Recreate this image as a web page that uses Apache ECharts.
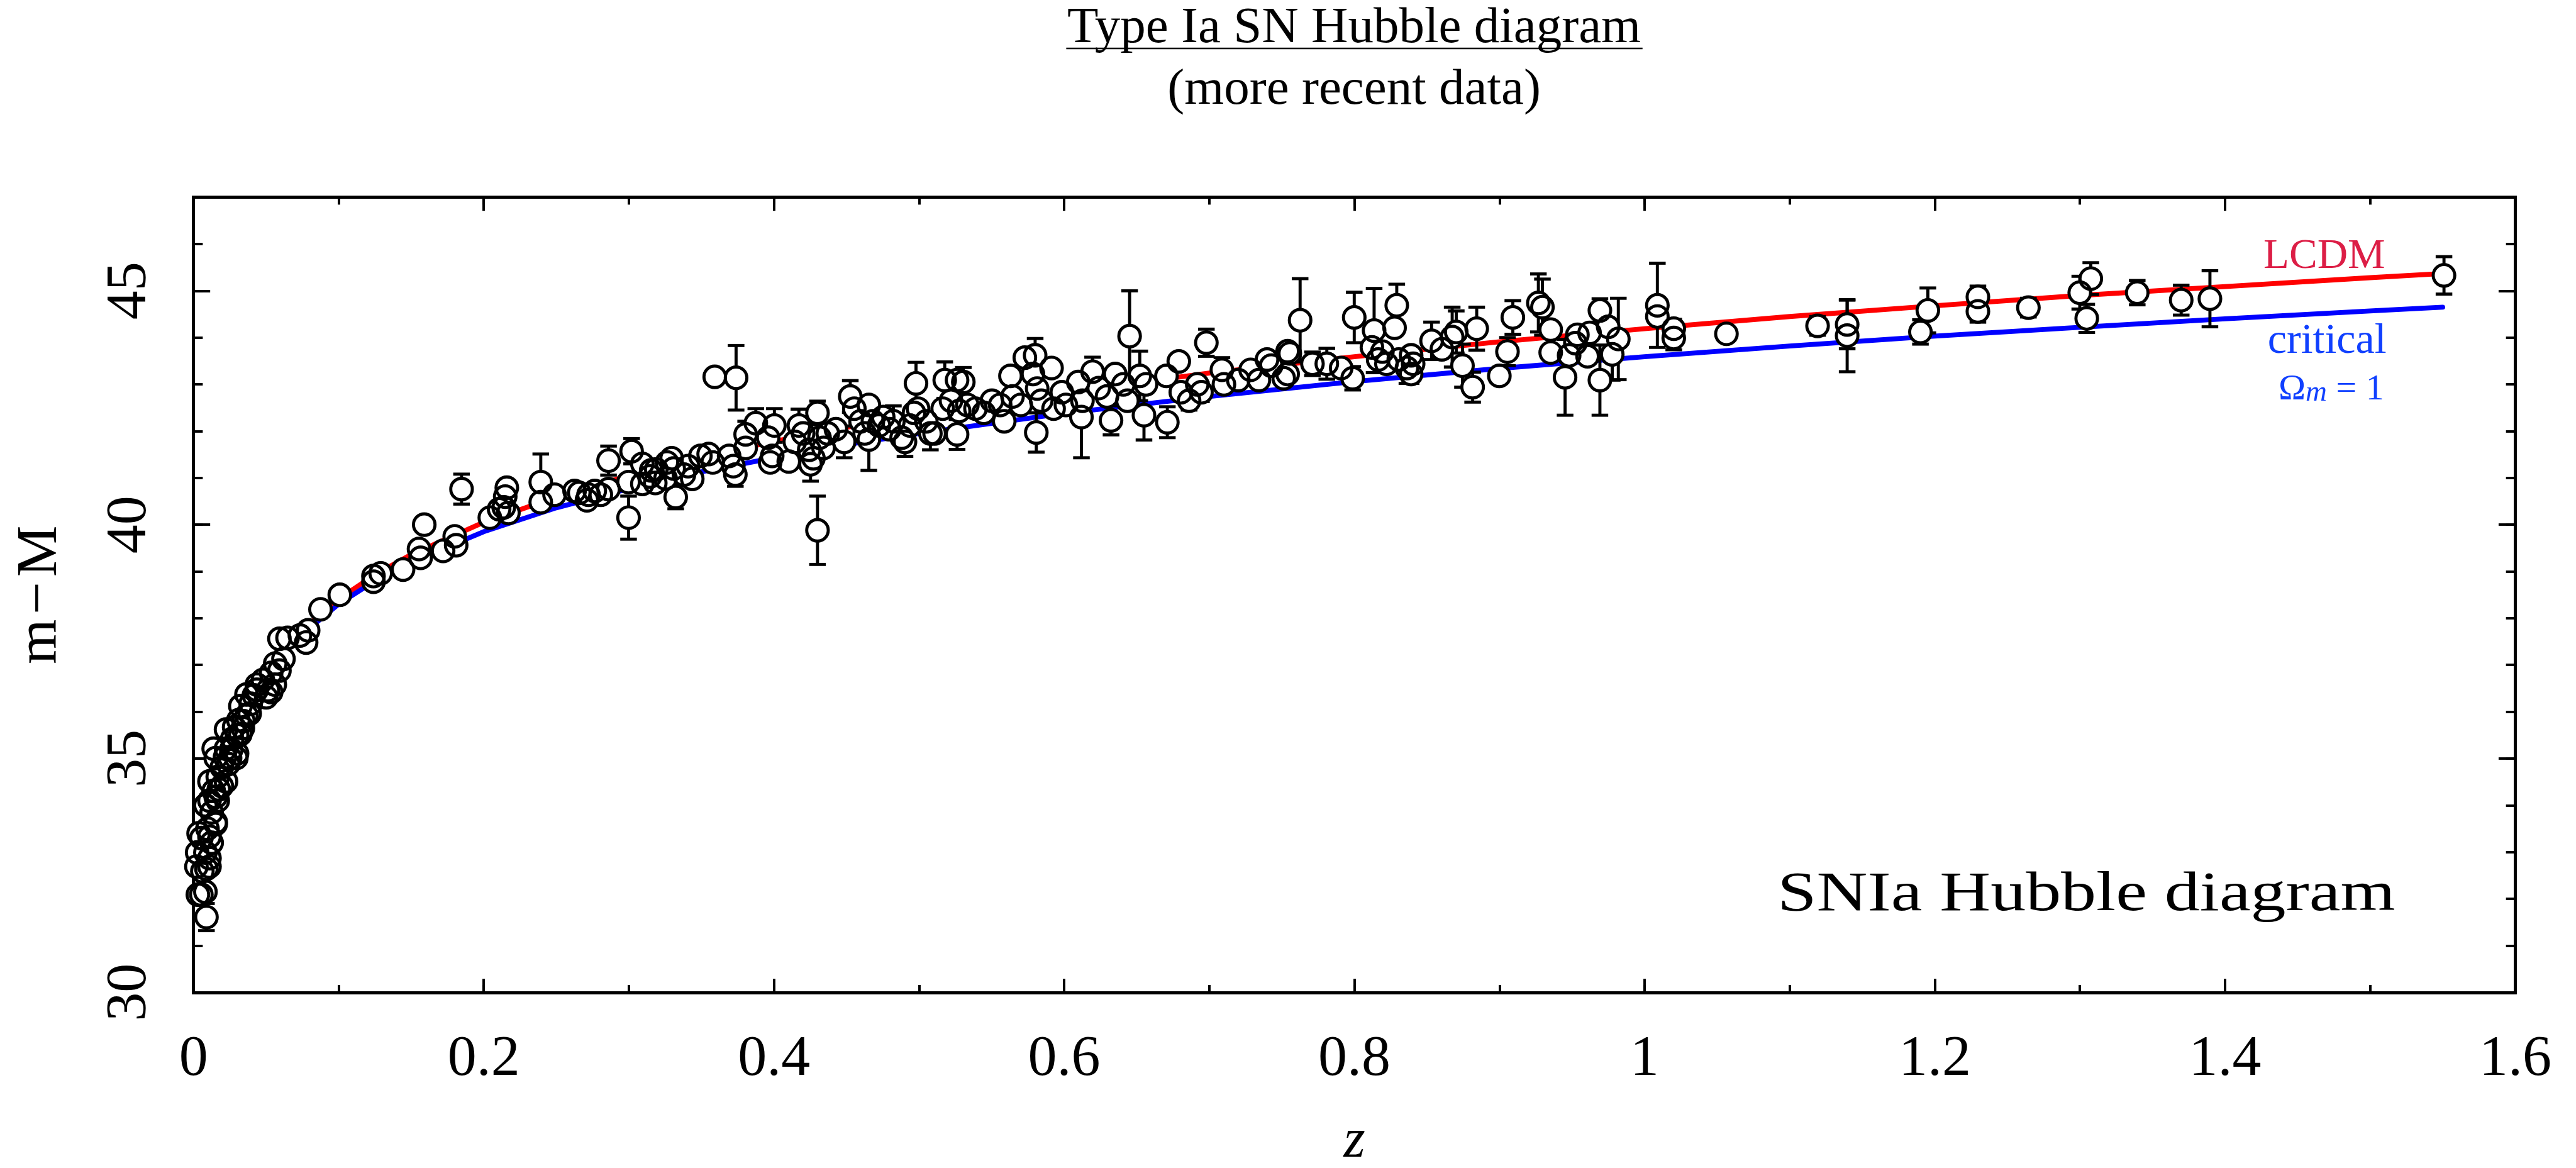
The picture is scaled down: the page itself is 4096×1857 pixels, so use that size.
<!DOCTYPE html>
<html>
<head>
<meta charset="utf-8">
<script src="https://cdn.jsdelivr.net/npm/echarts@6/dist/echarts.min.js"></script>
<style>html,body{margin:0;padding:0;background:#fff;}#c{width:4096px;height:1857px;}</style>
</head>
<body>
<div id="c"></div>
<script>
// ---------------- data ----------------
const snZ = [
 0.0089,0.0054,0.0030,0.0082,0.0020,0.0061,0.0110,0.0025,0.0082,0.0125,
 0.0054,0.0096,0.0153,0.0035,0.0125,0.0082,0.0167,0.0139,0.0195,0.0110,
 0.0167,0.0224,0.0195,0.0252,0.0153,0.0139,0.0224,0.0295,0.0266,0.0323,
 0.0224,0.0309,0.0280,0.0365,0.0323,0.0394,0.0365,0.0436,0.0535,0.0478,
 0.0535,0.0563,0.0592,0.0620,0.0592,0.0648,0.0733,0.0776,0.0790,0.0437,
 0.0512,0.0501,0.0416,0.0387,0.0344,0.0300,0.0340,0.0260,0.0300,0.0240,
 0.0217,0.0174,0.0153,0.0110,0.0153,0.0110,0.0110,0.0089,0.0560,
 0.0875,0.1008,0.1240,0.1240,0.1290,0.1444,0.1554,0.1565,0.1590,0.1720,
 0.1800,0.1810,0.1847,0.2042,0.2106,0.2138,0.2148,0.2159,0.2170,0.2393,
 0.2393,0.2488,0.2626,0.2658,0.2711,0.2722,0.2765,0.2807,0.2860,0.2860,
 0.2998,0.2998,0.3019,0.3093,0.3093,0.3146,0.3189,0.3263,0.3253,
 0.3154,0.3182,0.3295,0.3309,0.3323,0.3380,0.3408,0.3437,0.3493,0.3550,
 0.3578,0.3592,0.3739,0.3691,0.3720,0.3734,0.3805,0.3875,0.3805,0.3960,
 0.4003,0.3988,0.3974,0.4102,0.4144,0.4172,0.4201,0.4243,0.4272,0.4252,
 0.4300,0.4300,0.4314,0.4371,0.4342,0.4427,0.4484,0.4526,0.4554,0.4597,
 0.4625,0.4654,0.4654,0.4682,0.4724,0.4753,0.4795,0.4823,0.4880,0.4903,
 0.4937,0.4965,0.4979,0.4993,0.5050,0.5078,0.5107,0.5163,0.5177,0.5220,
 0.5262,0.5305,0.5276,0.5262,0.5333,0.5389,0.5446,0.5502,0.5559,0.5587,
 0.5630,0.5644,0.5701,0.5729,0.5800,0.5785,0.5814,0.5842,0.5808,0.5913,
 0.5927,0.5984,0.6012,0.6097,0.6126,0.6119,0.6196,0.6238,0.6295,0.6323,
 0.6352,0.6408,0.6436,0.6451,0.6521,0.6564,0.6550,0.6705,0.6711,0.6790,
 0.6804,0.6861,0.6917,0.6946,0.6980,0.7087,0.7101,0.7200,0.7285,0.7342,
 0.7398,0.7427,0.7540,0.7540,
 0.7626,0.7555,0.7513,0.7711,0.7810,0.7909,0.7988,0.7999,0.8136,0.8121,
 0.8193,0.8164,0.8292,0.8277,0.8221,0.8306,0.8362,0.8391,0.8405,0.8391,
 0.8532,0.8603,0.8674,0.8702,0.8843,0.8745,0.8815,0.9055,0.9092,0.8999,
 0.9268,0.9296,0.9353,0.9353,0.9452,0.9480,0.9523,0.9537,0.9607,0.9621,
 0.9692,0.9692,0.9749,0.9777,0.9819,1.0088,1.0088,1.0201,1.0201,1.0564,
 1.1192,1.1396,1.1396,
 1.1901,1.1952,1.2297,1.2297,1.2645,1.2999,1.3075,1.3047,1.3395,1.3698,1.3896,1.5509
];
const snMu = [
 31.61,32.09,32.09,32.15,32.69,32.59,32.69,32.99,32.99,33.20,
 33.30,33.50,33.60,33.40,33.85,34.00,34.10,34.31,34.41,34.51,
 34.61,34.51,34.81,35.01,35.01,35.21,35.21,35.01,35.42,35.52,
 35.62,35.82,35.67,35.92,36.12,36.17,36.37,36.47,36.42,36.68,
 36.83,37.03,36.88,37.13,37.56,37.58,37.63,37.48,37.74,36.58,
 36.46,36.31,36.35,35.96,35.80,35.50,35.65,35.19,35.11,34.88,
 35.03,34.34,34.18,34.10,33.64,33.33,32.87,32.64,36.58,
 38.19,38.50,38.90,38.78,38.96,39.04,39.48,39.29,40.00,39.44,
 39.75,39.56,40.76,40.15,40.33,40.37,40.60,40.79,40.25,40.91,
 40.48,40.64,40.72,40.68,40.52,40.64,40.72,40.64,40.76,41.37,
 40.91,40.15,41.57,41.30,40.87,41.03,41.18,41.33,40.99,
 41.16,40.89,41.42,41.20,40.59,41.07,41.25,40.98,41.47,41.51,
 41.33,43.16,43.14,41.47,41.25,41.07,41.93,42.17,41.64,41.86,
 42.12,41.47,41.33,41.35,41.77,42.12,41.95,41.60,41.42,41.29,
 42.39,39.88,41.86,41.95,41.64,42.04,41.77,42.74,42.48,42.21,
 41.95,41.82,42.56,42.21,42.12,42.30,42.04,42.21,41.86,41.77,
 42.12,42.39,43.02,42.48,42.21,41.95,41.95,42.48,43.09,42.65,
 43.09,43.05,42.43,41.93,42.56,42.48,42.39,42.65,42.56,42.21,
 43.18,42.74,42.56,43.57,43.62,43.22,42.91,42.65,41.97,43.35,
 42.48,42.83,42.56,43.05,42.65,42.30,43.27,42.92,42.74,42.23,
 43.22,43.00,42.65,44.03,43.18,43.00,42.34,43.18,42.19,43.49,
 42.83,42.65,43.00,42.83,43.89,43.31,43.00,43.09,43.31,43.09,
 43.53,43.40,43.22,43.71,
 44.37,43.66,43.13,43.44,43.44,43.35,43.13,44.43,44.15,43.79,
 43.70,43.53,44.69,44.21,43.44,43.53,43.35,43.62,43.44,43.22,
 43.93,43.75,44.01,44.12,44.19,43.40,42.94,43.70,44.43,43.18,
 44.74,44.65,44.17,43.68,43.15,43.62,43.88,44.06,43.60,44.10,
 44.58,43.09,44.23,43.64,43.97,44.69,44.45,44.19,43.99,44.08,
 44.25,44.28,44.04,
 44.12,44.58,44.87,44.56,44.64,44.96,45.26,44.41,44.96,44.80,44.83,45.33
];
const snErr = [
 0.29,0.15,0.15,0.15,0.15,0.15,0.15,0.15,0.15,0.15,
 0.15,0.15,0.15,0.15,0.15,0.15,0.15,0.15,0.15,0.15,
 0.15,0.15,0.15,0.15,0.15,0.15,0.15,0.15,0.15,0.15,
 0.15,0.15,0.15,0.15,0.15,0.15,0.15,0.15,0.15,0.15,
 0.15,0.15,0.15,0.15,0.15,0.15,0.15,0.15,0.15,0.15,
 0.15,0.15,0.15,0.15,0.15,0.15,0.15,0.15,0.15,0.15,
 0.15,0.15,0.15,0.15,0.15,0.15,0.15,0.15,0.15,
 0.15,0.15,0.15,0.15,0.15,0.15,0.15,0.15,0.15,0.15,
 0.15,0.15,0.32,0.15,0.15,0.15,0.15,0.15,0.15,0.60,
 0.15,0.15,0.15,0.15,0.15,0.15,0.15,0.15,0.15,0.31,
 0.15,0.46,0.27,0.15,0.15,0.15,0.15,0.15,0.15,
 0.15,0.15,0.15,0.15,0.25,0.15,0.15,0.15,0.15,0.15,
 0.15,0.15,0.69,0.15,0.15,0.25,0.28,0.31,0.15,0.15,
 0.36,0.15,0.15,0.15,0.15,0.35,0.15,0.15,0.15,0.36,
 0.25,0.73,0.15,0.15,0.15,0.15,0.34,0.34,0.15,0.15,
 0.15,0.66,0.15,0.15,0.15,0.15,0.15,0.33,0.15,0.31,
 0.15,0.15,0.45,0.15,0.15,0.35,0.15,0.15,0.39,0.15,
 0.15,0.31,0.15,0.32,0.15,0.15,0.15,0.15,0.15,0.15,
 0.15,0.15,0.15,0.15,0.36,0.15,0.15,0.15,0.42,0.15,
 0.15,0.15,0.15,0.15,0.15,0.87,0.31,0.15,0.15,0.31,
 0.15,0.15,0.15,0.97,0.53,0.15,0.53,0.15,0.33,0.15,
 0.15,0.20,0.15,0.20,0.29,0.26,0.15,0.15,0.15,0.15,
 0.15,0.15,0.15,0.15,
 0.89,0.15,0.15,0.25,0.33,0.15,0.25,0.54,0.90,0.15,
 0.15,0.15,0.45,0.15,0.15,0.15,0.33,0.15,0.15,0.20,
 0.40,0.15,0.64,0.45,0.46,0.46,0.32,0.30,0.36,0.15,
 0.62,0.60,0.15,0.15,0.81,0.15,0.15,0.15,0.15,0.15,
 0.25,0.75,0.15,0.55,0.87,0.90,0.15,0.20,0.25,0.15,
 0.20,0.52,0.77,
 0.26,0.48,0.23,0.23,0.20,0.35,0.34,0.30,0.26,0.32,0.60,0.40
];
// model curves
const curveZ  = [0.01,0.02,0.03,0.04,0.05,0.06,0.075,0.1,0.125,0.15,0.2,0.25,0.3,0.35,0.4,0.45,0.5,0.6,0.7,0.8,0.9,1.0,1.1,1.2,1.3,1.4,1.5,1.55];
const lcdmMu  = [33.27,34.79,35.68,36.33,36.83,37.24,37.75,38.41,38.93,39.36,40.05,40.59,41.05,41.43,41.78,42.08,42.35,42.83,43.24,43.59,43.91,44.19,44.45,44.68,44.90,45.09,45.28,45.37];
const critMu  = [33.25,34.77,35.65,36.28,36.77,37.17,37.66,38.30,38.80,39.20,39.85,40.36,40.77,41.13,41.43,41.71,41.95,42.38,42.74,43.06,43.34,43.59,43.82,44.03,44.22,44.40,44.57,44.65];
const xRange = [0, 1.6];
const yRange = [30, 47];
const titleText = 'Type Ia SN Hubble diagram';
const subtitleText = '(more recent data)';
const boxText = 'SNIa Hubble diagram';

// ---------------- layout ----------------
const S = 0.98;
const FONT = '"Liberation Serif", "DejaVu Serif", serif';
const PL = 314 * S, PR = 4081 * S, PT = 320 * S, PB = 1610 * S;
const gridRect = { left: PL, top: PT, width: PR - PL, height: PB - PT, outerBoundsMode: 'none', containLabel: false };

const lineAx = { show: true, onZero: false, lineStyle: { color: '#000', width: 5 * S, cap: 'square' } };
const noLine = { show: false, onZero: false };
const tickStyle = { color: '#000', width: 4 * S };
const noLabel = { show: false };
const noSplit = { show: false };

function xAx(grid, pos, interval, tickLen, withLine, extra) {
  return Object.assign({
    gridIndex: grid, type: 'value', position: pos, min: xRange[0], max: xRange[1], interval: interval,
    axisLine: withLine ? lineAx : noLine,
    axisTick: { show: true, inside: true, length: tickLen, lineStyle: tickStyle },
    axisLabel: noLabel, splitLine: noSplit, minorTick: { show: false }
  }, extra || {});
}
function yAx(grid, pos, interval, tickLen, withLine, extra) {
  return Object.assign({
    gridIndex: grid, type: 'value', position: pos, min: yRange[0], max: yRange[1], interval: interval,
    axisLine: withLine ? lineAx : noLine,
    axisTick: { show: true, inside: true, length: tickLen, lineStyle: tickStyle },
    axisLabel: noLabel, splitLine: noSplit, minorTick: { show: false }
  }, extra || {});
}

const CAP_HALF = 13.5 * S;
function renderErr(params, api) {
  const x = api.value(0);
  const p1 = api.coord([x, api.value(1)]);
  const p2 = api.coord([x, api.value(2)]);
  const st = { stroke: '#000', lineWidth: 5 * S };
  return {
    type: 'group',
    children: [
      { type: 'line', shape: { x1: p1[0], y1: p1[1], x2: p2[0], y2: p2[1] }, style: st },
      { type: 'line', shape: { x1: p1[0] - CAP_HALF, y1: p1[1], x2: p1[0] + CAP_HALF, y2: p1[1] }, style: st },
      { type: 'line', shape: { x1: p2[0] - CAP_HALF, y1: p2[1], x2: p2[0] + CAP_HALF, y2: p2[1] }, style: st }
    ]
  };
}

const points = snZ.map((z, i) => [z, snMu[i]]);
const errData = snZ.map((z, i) => [z, snMu[i] - snErr[i], snMu[i] + snErr[i]]);

const labelFont = { fontFamily: FONT, fontSize: 92, color: '#000' };
const blue = '#1040ff', crimson = '#dc1e46';

const option = {
  animation: false,
  backgroundColor: '#fff',
  grid: [Object.assign({}, gridRect), Object.assign({}, gridRect)],
  xAxis: [
    xAx(0, 'bottom', 0.2, 22 * S, true, {
      axisLabel: Object.assign({ show: true, margin: 61, showMinLabel: true, showMaxLabel: true }, labelFont),
      name: 'z', nameLocation: 'middle', nameGap: 194, nameMoveOverlap: false,
      nameTextStyle: { fontFamily: FONT, fontSize: 88, fontStyle: 'italic', color: '#000' }
    }),
    xAx(0, 'top', 0.2, 22 * S, true),
    xAx(1, 'bottom', 0.1, 12 * S, false),
    xAx(1, 'top', 0.1, 12 * S, false)
  ],
  yAxis: [
    yAx(0, 'left', 5, 27 * S, true, {
      axisLabel: Object.assign({ show: true, rotate: 90, margin: 55, showMinLabel: true, showMaxLabel: false }, labelFont),
      name: 'm\u200A\u2212\u200AM', nameLocation: 'middle', nameGap: 197, nameRotate: 90, nameMoveOverlap: false,
      nameTextStyle: { fontFamily: FONT, fontSize: 92, color: '#000' }
    }),
    yAx(0, 'right', 5, 27 * S, true),
    yAx(1, 'left', 1, 15 * S, false),
    yAx(1, 'right', 1, 15 * S, false)
  ],
  title: [
    { text: titleText, left: 2197 * S, top: 5.7, textAlign: 'center', padding: 0,
      textStyle: { fontFamily: FONT, fontSize: 81, fontWeight: 'normal', color: '#000' } },
    { text: subtitleText, left: 2197 * S, top: 103.7, textAlign: 'center', padding: 0,
      textStyle: { fontFamily: FONT, fontSize: 81, fontWeight: 'normal', color: '#000' } },
    { text: 'LCDM', left: 3870 * S, top: 375, textAlign: 'right', padding: 0,
      textStyle: { fontFamily: FONT, fontSize: 67, fontWeight: 'normal', color: crimson } },
    { text: 'critical', left: 3872 * S, top: 509.5, textAlign: 'right', padding: 0,
      textStyle: { fontFamily: FONT, fontSize: 68, fontWeight: 'normal', color: blue } },
    { text: '{o|\u03A9}{s|m}{o| = 1}', left: 3868 * S, top: 590.4, textAlign: 'right', padding: 0,
      textStyle: { fontFamily: FONT, fontSize: 58, fontWeight: 'normal', color: blue,
        rich: {
          o: { fontFamily: FONT, fontSize: 58, fontWeight: 'normal', lineHeight: 58, color: blue, verticalAlign: 'bottom' },
          s: { fontFamily: FONT, fontSize: 47, fontWeight: 'normal', fontStyle: 'italic', lineHeight: 22, color: blue, verticalAlign: 'bottom' }
        } } }
  ],
  graphic: [
    { type: 'line', silent: true, shape: { x1: 1730 * S, y1: 78.5 * S, x2: 2665 * S, y2: 78.5 * S },
      style: { stroke: '#000', lineWidth: 2.6 * S } },
    { type: 'text', silent: true, x: 2884 * S, y: 1379.6, scaleX: 1.272,
      style: { text: boxText, fontFamily: FONT, fontSize: 88, fill: '#000',
        align: 'left', textAlign: 'left', verticalAlign: 'top', textVerticalAlign: 'top' } }
  ],
  series: [
    { type: 'line', name: 'LCDM', xAxisIndex: 0, yAxisIndex: 0, silent: true,
      data: curveZ.map((z, i) => [z, lcdmMu[i]]), showSymbol: false, symbol: 'none', smooth: false,
      lineStyle: { color: '#ff0000', width: 8 * S, cap: 'round', join: 'round' }, z: 2 },
    { type: 'line', name: 'critical', xAxisIndex: 0, yAxisIndex: 0, silent: true,
      data: curveZ.map((z, i) => [z, critMu[i]]), showSymbol: false, symbol: 'none', smooth: false,
      lineStyle: { color: '#0000ff', width: 8 * S, cap: 'round', join: 'round' }, z: 2 },
    { type: 'custom', name: 'err', xAxisIndex: 0, yAxisIndex: 0, silent: true,
      renderItem: renderErr, data: errData, encode: { x: 0, y: [1, 2] }, z: 3 },
    { type: 'scatter', name: 'fill', xAxisIndex: 0, yAxisIndex: 0, silent: true,
      data: points, symbol: 'circle', symbolSize: 35 * S,
      itemStyle: { color: '#fff', borderWidth: 0, opacity: 1 }, z: 4 },
    { type: 'scatter', name: 'SNe', xAxisIndex: 0, yAxisIndex: 0, silent: true,
      data: points, symbol: 'circle', symbolSize: 35 * S,
      itemStyle: { color: 'rgba(0,0,0,0)', borderColor: '#000', borderWidth: 5 * S, opacity: 1 }, z: 5 }
  ]
};

const chart = echarts.init(document.getElementById('c'), null, { renderer: 'canvas', width: 4096, height: 1857 });
chart.setOption(option);
</script>
</body>
</html>
